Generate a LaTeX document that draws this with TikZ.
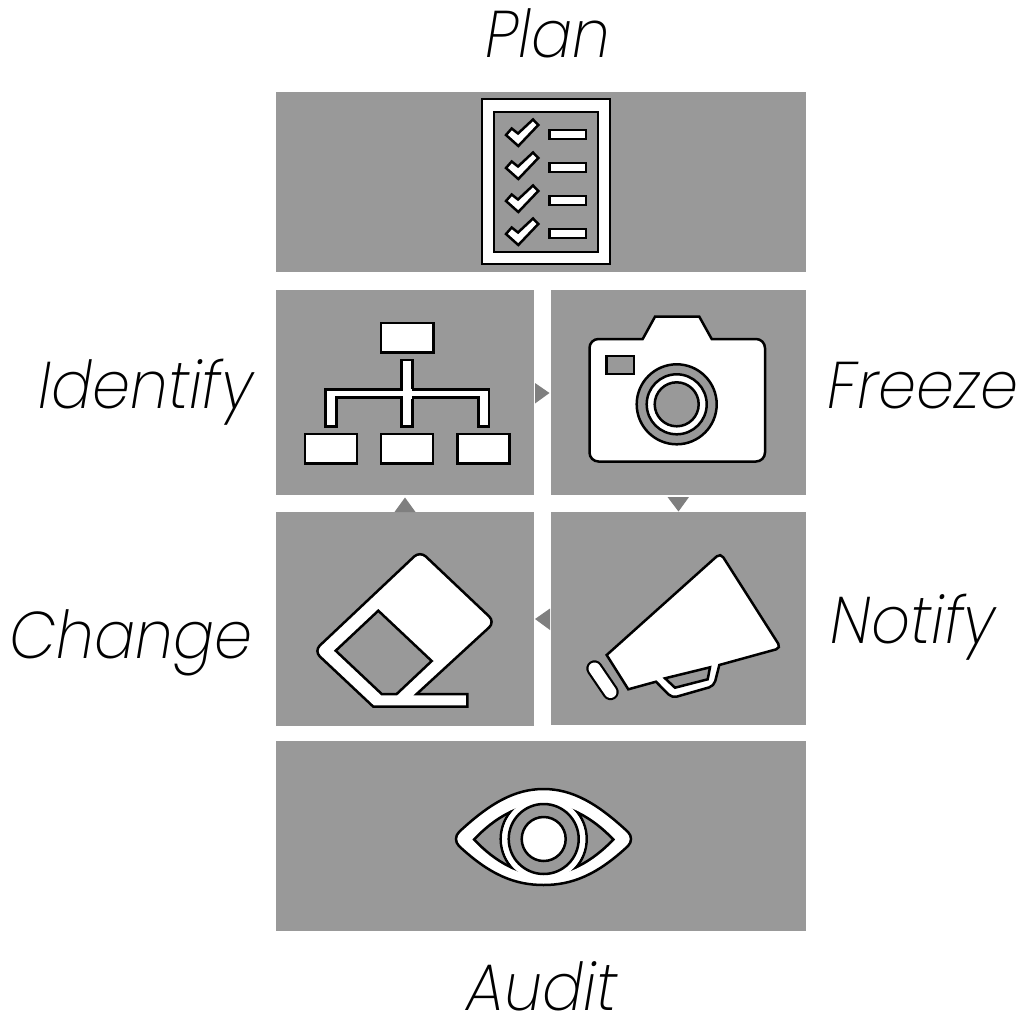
\documentclass[tikz,border=0pt]{standalone}
\usepackage{fontspec}
\setmainfont{Poppins ExtraLight}[ItalicFont={Poppins ExtraLight Italic},ItalicFeatures={FakeStretch=0.92}]
\begin{document}
\begin{tikzpicture}[x=1pt,y=-1pt,line join=miter,
    panel/.style={fill=panelgray,inner sep=0pt,outer sep=0pt},
    icon/.style={draw=black,fill=white,line width=2.5pt},
    hole/.style={draw=black,fill=panelgray,line width=2.5pt},
    marker/.style={fill=markergray},
    phase/.style={anchor=base,inner sep=0pt,font=\fontsize{66}{72}\selectfont\itshape}]
    \definecolor{panelgray}{HTML}{999999}
    \definecolor{markergray}{HTML}{7F7F7F}
    \useasboundingbox (0,0) rectangle (1028,1014);

    \node[panel,minimum width=530pt,minimum height=180pt] (plan) at (541,182) {};
    \node[panel,minimum width=258pt,minimum height=205pt] (identify) at (405,392.5) {};
    \node[panel,minimum width=255pt,minimum height=205pt] (freeze) at (678.5,392.5) {};
    \node[panel,minimum width=258pt,minimum height=214pt] (change) at (405,619) {};
    \node[panel,minimum width=255pt,minimum height=213pt] (notify) at (678.5,618.5) {};
    \node[panel,minimum width=530pt,minimum height=190pt] (audit) at (541,836) {};

    \node[phase] (planlabel) at (548,58) {Plan};
    \node[phase] (identifylabel) at (146,408) {Identify};
    \node[phase] (freezelabel) at (923,408) {Freeze};
    \node[phase] (notifylabel) at (913,643) {Notify};
    \node[phase] (changelabel) at (131,658) {Change};
    \node[phase] (auditlabel) at (542,1010) {Audit};

    \fill[marker] (535,383) -- (535,403.5) -- (549.5,393) -- cycle;
    \fill[marker] (667.5,497) -- (689,497) -- (678.5,511.5) -- cycle;
    \fill[marker] (550,608.5) -- (550,630) -- (535,619) -- cycle;
    \fill[marker] (394.5,512) -- (415.5,512) -- (405,497.5) -- cycle;

    \draw[icon] (482,99) rectangle (610,264);
    \draw[hole] (494,112) rectangle (598,252);
    \foreach \y in {0,33,66,99} {
        \draw[icon,yshift=-\y pt] (506,135) -- (518.3,146) -- (538.3,125) -- (533,119.5) -- (518,133.5) -- (511.7,128.5) -- cycle;
        \draw[icon,yshift=-\y pt] (549.5,130) rectangle (586,139);
    }

    \foreach \x in {305,381,457.5}
        \draw[icon] (\x,434) rectangle +(52,29.5);
    \draw[icon] (381,323) rectangle (433.3,352.7);
    \draw[icon] (401.7,360) -- (412.7,360) -- (412.7,389.3) -- (489,389.3) -- (489,426.7) -- (478.3,426.7) -- (478.3,397.7)
        -- (412.7,397.7) -- (412.7,426.7) -- (401.7,426.7) -- (401.7,397.7) -- (336.7,397.7) -- (336.7,426.7) -- (325.7,426.7)
        -- (325.7,389.3) -- (401.7,389.3) -- cycle;
    \fill[white] (403,388.5) rectangle (411.5,399);

    \draw[icon] (642.7,339) -- (655,316.7) -- (699.3,316.7) -- (711.7,339) [rounded corners=9pt] -- (765,339) -- (765,461.5)
        -- (589.5,461.5) -- (589.5,339) [sharp corners] -- cycle;
    \draw[hole] (606.7,356) rectangle (634,374);
    \draw[hole] (676.7,404.3) circle (40);
    \draw[icon] (676.7,404.3) circle (30);
    \draw[hole] (676.7,404.3) circle (22);

    \draw[icon] (416.7,694) -- (467.3,694) -- (467.3,706.7) -- (373.3,706.7) [rounded corners=8pt] -- (314,651) -- (420,551) -- (495,622) [sharp corners] -- cycle;
    \draw[hole] (378.3,610.7) -- (431.7,661) -- (396.7,694) -- (381.7,694) -- (335.7,650.7) -- cycle;

    \draw[icon] (606.7,655) [rounded corners=5pt] -- (720.5,553) -- (781,648) [sharp corners] -- (719.3,665) [rounded corners=5pt] -- (714,686) -- (672,698) [sharp corners] -- (656,681.7) -- (628.3,689.3) -- cycle;
    \draw[hole] (665,678.3) -- (710,667.3) -- (707.7,679.3) -- (675,687.7) -- cycle;
    \draw[line width=2.2pt,double=white,double distance=12pt,line cap=round] (594.5,668.5) -- (610.5,692);

    \draw[icon] (459,832) .. controls (490,803) and (515,789) .. (543.5,789) .. controls (572,789) and (597,803) .. (628,832)
        .. controls (632,836) and (632,842) .. (628,846) .. controls (597,875) and (572,885) .. (543.5,885)
        .. controls (515,885) and (490,875) .. (459,846) .. controls (455,842) and (455,836) .. (459,832) -- cycle;
    \begin{scope}
        \path[clip] (472.5,839.5) .. controls (495,815) and (520,803) .. (543.5,803) .. controls (567,803) and (592,815) .. (615,839.5)
            .. controls (592,864) and (567,876) .. (543.5,876) .. controls (520,876) and (495,864) .. (472.5,839.5) -- cycle;
        \fill[panelgray] (450,780) rectangle (640,900);
        \draw[black,line width=5pt] (472.5,839.5) .. controls (495,815) and (520,803) .. (543.5,803) .. controls (567,803) and (592,815) .. (615,839.5)
            .. controls (592,864) and (567,876) .. (543.5,876) .. controls (520,876) and (495,864) .. (472.5,839.5) -- cycle;
        \draw[icon] (543.7,839) circle (43);
    \end{scope}
    \fill[white] (543.7,839) circle (41.5);
    \draw[hole] (543.7,839) circle (35);
    \draw[icon] (543.7,839) circle (22);
\end{tikzpicture}
\end{document}
